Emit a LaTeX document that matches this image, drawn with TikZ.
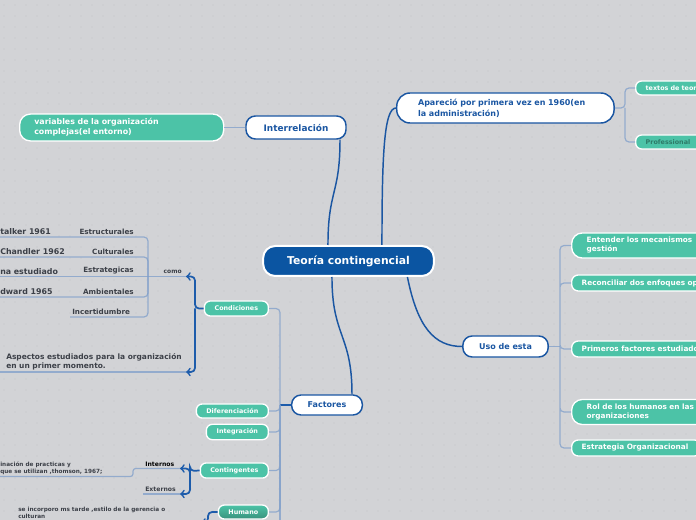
\documentclass[tikz,border=0pt]{standalone}
\usepackage{fontspec}
\setmainfont{DejaVu Sans}
\usetikzlibrary{shapes, arrows, positioning}

\definecolor{bggray}{HTML}{D2D3D6}
\definecolor{dotgray}{HTML}{C1C2C6}
\definecolor{rootblue}{HTML}{0B55A2}
\definecolor{topicblue}{HTML}{1A56A2}
\definecolor{linkblue}{HTML}{1D5CAB}
\definecolor{branchblue}{HTML}{7E9ECA}
\definecolor{leafgreen}{HTML}{4CC3A7}
\definecolor{profteal}{HTML}{2E7A68}
\definecolor{labelgray}{HTML}{3C4048}

\begin{document}
\begin{tikzpicture}[x=0.75pt,y=-0.75pt,
	root/.style={draw=white, line width=1.5pt, fill=rootblue, text=white, rounded corners=9pt,
		minimum width=128pt, minimum height=22.5pt, font=\fontsize{8.1}{9.7}\selectfont\bfseries},
	topic/.style={draw=topicblue, line width=1.1pt, fill=white, text=topicblue, rounded corners=7pt,
		font=\fontsize{6}{8.25}\selectfont\bfseries},
	leaf/.style={draw=white, line width=1pt, fill=leafgreen, text=white, rounded corners=5pt,
		font=\fontsize{5.5}{6.75}\selectfont\bfseries},
	leafs/.style={leaf, rounded corners=4.5pt, font=\fontsize{4.8}{6}\selectfont\bfseries},
	lbl/.style={inner xsep=1.5pt, inner ysep=1.5pt, text=labelgray, font=\fontsize{5.4}{6.75}\selectfont\bfseries},
	who/.style={lbl, font=\fontsize{5.9}{7}\selectfont\bfseries},
	tiny/.style={lbl, align=left, font=\fontsize{4.3}{5.25}\selectfont\bfseries},
	trunk/.style={draw=topicblue, line width=1.1pt},
	branch/.style={draw=branchblue, line width=0.9pt, rounded corners=3pt, draw opacity=0.75},
	link/.style={draw=linkblue, line width=1.3pt, rounded corners=3pt, >=to}
	]
	\useasboundingbox (0,0) rectangle (696,520);
	\clip (0,0) rectangle (696,520);
	\fill[bggray] (0,0) rectangle (696,520);
	\foreach \i in {0,...,63}{
		\foreach \j in {0,...,47}{
			\fill[dotgray] (4+11*\i,5+11*\j) circle (0.55pt);
		}
	}

	% centre and topics
	\node[root] (teo) at (348.5,261) {Teoría contingencial};
	\node[topic, minimum width=75pt, minimum height=17.25pt, font=\fontsize{6.7}{8}\selectfont\bfseries] (inter) at (296,127.5) {Interrelación};
	\node[topic, anchor=west, align=left, text width=131pt, inner xsep=16pt, minimum height=22.5pt,
		rounded corners=10pt] (apar) at (396,108) {Apareció por primera vez en 1960(en\\la administración)};
	\node[topic, minimum width=64pt, minimum height=15.75pt] (uso) at (505.5,346.5) {Uso de esta};
	\node[topic, minimum width=53pt, minimum height=15pt] (fac) at (327,405) {Factores};

	\draw[trunk] ([xshift=-15.4pt]teo.north) .. controls +(0,-55) and +(0,55) .. ([xshift=33pt]inter.south);
	\draw[trunk] ([xshift=25.1pt]teo.north) .. controls +(0,-90) and +(-12,0) .. (apar.west);
	\draw[trunk] ([xshift=-12.4pt]teo.south) .. controls +(0,60) and +(0,-60) .. ([xshift=18.75pt]fac.north);
	\draw[trunk] ([xshift=44.2pt]teo.south) .. controls +(10,50) and +(-28,0) .. (uso.west);

	% Interrelacion
	\node[leaf, anchor=west, align=left, text width=131pt, inner xsep=11pt, minimum height=18.75pt,
		rounded corners=8pt, font=\fontsize{5.9}{7.5}\selectfont\bfseries] (vars) at (19,127.5)
		{variables de la organización\\complejas(el entorno)};
	\draw[branch] (vars.east) -- (inter.west);

	% Aparecio
	\node[leafs, anchor=west, text width=79pt, inner xsep=7.5pt, minimum height=10.5pt] (txt) at (635,88) {textos de teor};
	\node[leafs, anchor=west, text width=79pt, inner xsep=7.5pt, minimum height=10.5pt, text=profteal] (prof) at (635,142) {Professional};
	\coordinate (jA) at (625,108);
	\draw[branch] (apar.east) -- (jA) |- (txt.west) (jA) |- (prof.west);

	% Uso de esta
	\node[leaf, anchor=west, align=left, text width=119pt, inner xsep=11.25pt, minimum height=18.75pt,
		rounded corners=8pt] (ent) at (571,245.5) {Entender los mecanismos\\gestión};
	\node[leaf, anchor=west, text width=127pt, inner xsep=7.5pt, minimum height=12pt] (rec) at (571,283) {Reconciliar dos enfoques op};
	\node[leaf, anchor=west, text width=127pt, inner xsep=7.5pt, minimum height=12pt] (pri) at (571,349) {Primeros factores estudiado};
	\node[leaf, anchor=west, align=left, text width=119pt, inner xsep=11.25pt, minimum height=18.75pt,
		rounded corners=8pt] (rol) at (571,412) {Rol de los humanos en las\\organizaciones};
	\node[leaf, anchor=west, text width=82pt, inner xsep=7.5pt, minimum height=12pt] (est) at (571,448) {Estrategia Organizacional};
	\coordinate (jU) at (560,346.5);
	\draw[branch] (uso.east) -- (jU);
	\draw[branch] (jU) |- (ent.west) (jU) |- (rec.west) (jU) |- (pri.west) (jU) |- (rol.west) (jU) |- (est.west);

	% Factores
	\node[leafs, anchor=east, minimum width=48pt, minimum height=11.25pt] (cond) at (269,308.5) {Condiciones};
	\node[leafs, anchor=east, minimum width=54pt, minimum height=10.5pt] (dif) at (269,411) {Diferenciación};
	\node[leafs, anchor=east, minimum width=46.5pt, minimum height=10.5pt] (integ) at (269,432) {Integración};
	\node[leafs, anchor=east, minimum width=51pt, minimum height=11.25pt] (cont) at (269,470.5) {Contingentes};
	\node[leafs, anchor=east, minimum width=37.5pt, minimum height=10.5pt, top color=leafgreen,
		bottom color=leafgreen!75!black] (hum) at (269,512) {Humano};
	\coordinate (jF) at (280,405);
	\coordinate (jFend) at (280,530);
	\draw[link, line width=1.1pt] (fac.west) -- (jF);
	\draw[branch] (jF) |- (cond.east) (jF) |- (dif.east) (jF) |- (integ.east) (jF) |- (cont.east) (jF) |- (hum.east);
	\draw[branch] (jF) -- (jFend);

	% Condiciones
	\node[who, anchor=south west] (stk) at (-2,237) {talker 1961};
	\node[lbl, anchor=south east] (estr) at (136,237) {Estructurales};
	\node[who, anchor=south west] (chd) at (-2,257) {Chandler 1962};
	\node[lbl, anchor=south east] (cult) at (136,257) {Culturales};
	\node[who, anchor=south west] (nae) at (-2,276.5) {na estudiado};
	\node[lbl, anchor=south east] (estg) at (136,276.5) {Estrategicas};
	\node[who, anchor=south west] (edw) at (-2,297) {dward 1965};
	\node[lbl, anchor=south east] (amb) at (136,297) {Ambientales};
	\node[lbl, anchor=south west] (inc) at (70,317) {Incertidumbre};
	\node[lbl, anchor=south west, align=left, inner xsep=4.5pt, font=\fontsize{5.6}{6.75}\selectfont\bfseries] (asp) at (0,372)
		{Aspectos estudiados para la organización\\en un primer momento.};
	\coordinate (jL) at (148,276.5);
	\coordinate (jC) at (195,308.5);
	\coordinate (comoA) at (186,276.5);
	\coordinate (aspA) at (186,372);
	\draw[branch] (stk.south west) -| (jL);
	\draw[branch] (chd.south west) -| (jL);
	\draw[branch] (nae.south west) -- (jL);
	\draw[branch] (edw.south west) -| (jL);
	\draw[branch] (inc.south west) -| (jL);
	\draw[branch] (jL) -- node[lbl, above, pos=0.65, font=\fontsize{4.5}{5.5}\selectfont\bfseries] {como} (comoA);
	\draw[branch] (asp.south west) -- (aspA);
	\draw[link,->] (cond.west) -- (jC) |- (comoA);
	\draw[link,->] (jC) |- (aspA);

	% Contingentes
	\node[lbl, anchor=south west, text=black, font=\fontsize{4.6}{5.5}\selectfont\bfseries] (intr) at (143,468.5) {Internos};
	\node[lbl, anchor=south west, font=\fontsize{4.6}{5.5}\selectfont\bfseries] (ext) at (143,494) {Externos};
	\node[tiny, anchor=south west] (thm) at (-2,476.5) {inación de practicas y\\que se utilizan ,thomson, 1967;};
	\coordinate (jK) at (190,471);
	\coordinate (intA) at (180,468.5);
	\coordinate (extA) at (180,494);
	\coordinate (jT) at (133,468.5);
	\draw[branch, rounded corners=2pt] (intA) -- (jT) |- (thm.south west);
	\draw[branch] (ext.south west) -- (extA);
	\draw[link,->] (cont.west) -- (jK) |- (intA);
	\draw[link,->] (jK) |- (extA);

	% Humano
	\node[tiny, anchor=south west, inner ysep=2.5pt] (sei) at (16,522.5) {se incorporo ms tarde ,estilo de la gerencia o\\culturan};
	\coordinate (jH) at (208,512);
	\coordinate (humA) at (201,522.5);
	\draw[branch] (sei.south west) -- (humA);
	\draw[link,->] (hum.west) -- (jH) |- (humA);
\end{tikzpicture}
\end{document}
